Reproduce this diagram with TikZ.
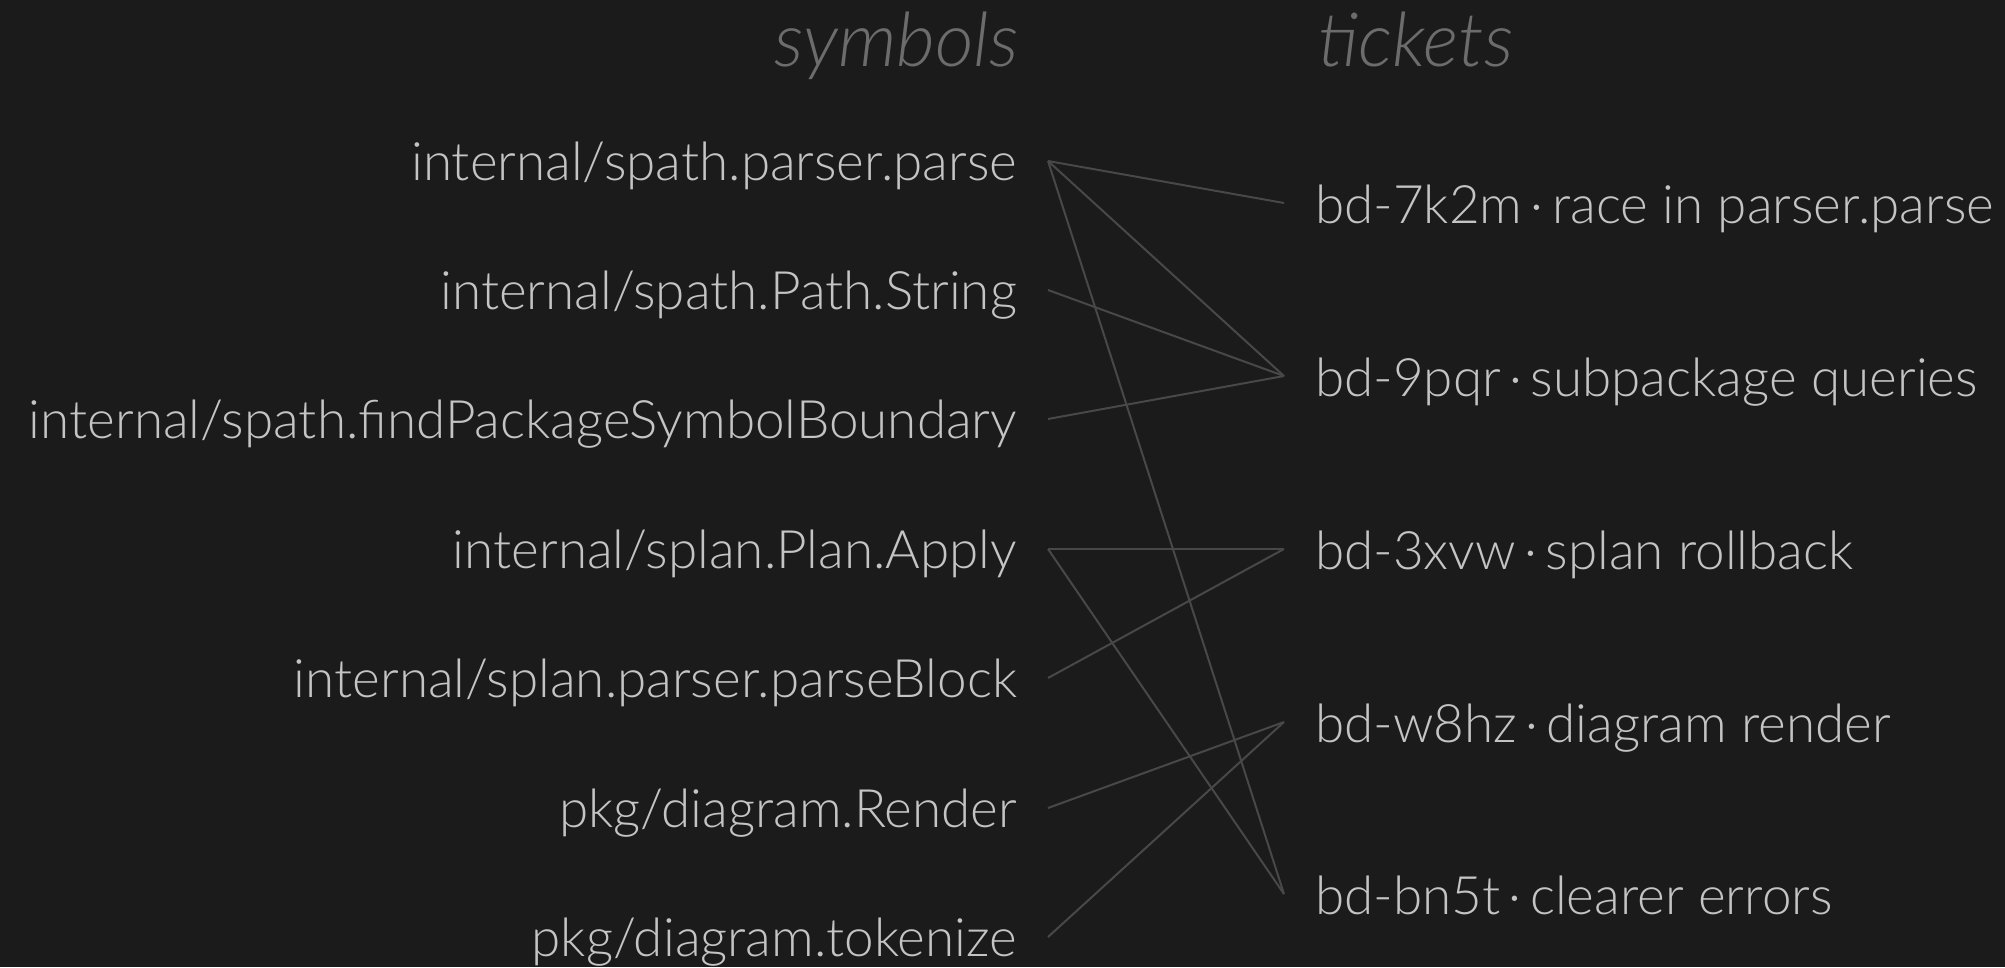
\documentclass[tikz,border=0pt]{standalone}
\usepackage{fontspec}
\setmainfont{Lato}[UprightFont=* Light, ItalicFont=* Light Italic]
\definecolor{bg}{HTML}{1B1B1B}
\definecolor{fg}{HTML}{C4C4C4}
\definecolor{hd}{HTML}{6C6C6C}
\definecolor{ln}{HTML}{484848}
\newcommand\tksep{\hspace{8.4pt}·\hspace{8.4pt}}
\begin{document}
\begin{tikzpicture}[x=1pt,y=-1pt,
  lbl/.style={inner sep=0pt, text=fg, font=\fontsize{53}{60}\selectfont},
  sym/.style={lbl, anchor=base east},
  tk/.style={lbl, anchor=base west},
  hdr/.style={inner sep=0pt, text=hd, font=\fontsize{75}{85}\selectfont\itshape},
  link/.style={draw=ln, line width=2pt}]
\fill[bg] (0,0) rectangle (2005,967);
\useasboundingbox (0,0) rectangle (2005,967);
\node[hdr, anchor=base east] (hs) at (1019,66) {symbols};
\node[hdr, anchor=base west] (ht) at (1318,66) {tickets};
% symbols
\node[sym] (l1) at (1017,180) {internal/spath.parser.parse};
\node[sym] (l2) at (1017,309) {internal/spath.Path.String};
\node[sym] (l3) at (1017,438) {internal/spath.findPackageSymbolBoundary};
\node[sym] (l4) at (1017,568) {internal/splan.Plan.Apply};
\node[sym] (l5) at (1017,697) {internal/splan.parser.parseBlock};
\node[sym] (l6) at (1017,827) {pkg/diagram.Render};
\node[sym] (l7) at (1017,956) {pkg/diagram.tokenize};
\coordinate (s1) at (1048,161);
\coordinate (s2) at (1048,290);
\coordinate (s3) at (1048,419);
\coordinate (s4) at (1048,549);
\coordinate (s5) at (1048,678);
\coordinate (s6) at (1048,808);
\coordinate (s7) at (1048,937);
% tickets
\node[tk] (r1) at (1315,223) {bd-7k2m\tksep race in parser.parse};
\node[tk] (r2) at (1315,396) {bd-9pqr\tksep subpackage queries};
\node[tk] (r3) at (1315,569) {bd-3xvw\tksep splan rollback};
\node[tk] (r4) at (1315,742) {bd-w8hz\tksep diagram render};
\node[tk] (r5) at (1315,914) {bd-bn5t\tksep clearer errors};
\coordinate (t1) at (1284,203);
\coordinate (t2) at (1284,376);
\coordinate (t3) at (1284,549);
\coordinate (t4) at (1284,722);
\coordinate (t5) at (1284,894);
% links
\draw[link] (s1) -- (t1);
\draw[link] (s1) -- (t2);
\draw[link] (s1) -- (t5);
\draw[link] (s2) -- (t2);
\draw[link] (s3) -- (t2);
\draw[link] (s4) -- (t3);
\draw[link] (s4) -- (t5);
\draw[link] (s5) -- (t3);
\draw[link] (s6) -- (t4);
\draw[link] (s7) -- (t4);
\end{tikzpicture}
\end{document}
